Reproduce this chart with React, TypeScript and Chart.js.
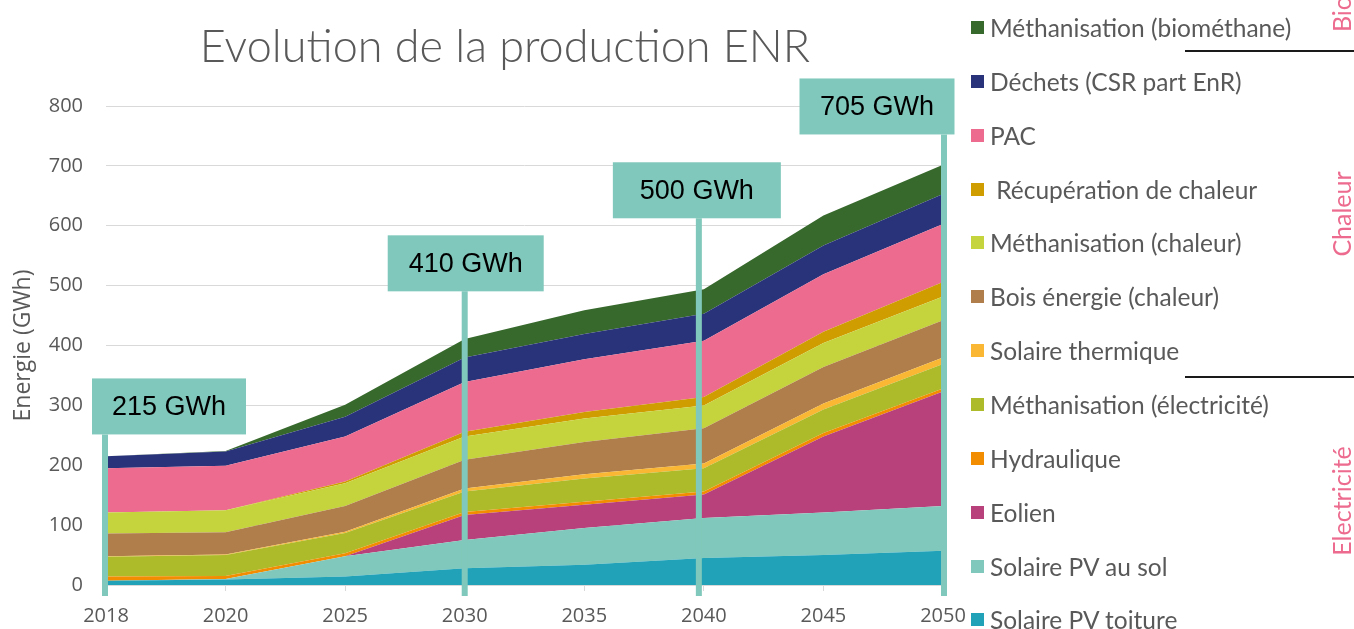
import React, { useEffect, useRef } from 'react';
import { Chart, registerables } from 'chart.js';

Chart.register(...registerables);

// ---- Data ----
const years = ['2018', '2020', '2025', '2030', '2035', '2040', '2045', '2050'];

const solairePvToiture = [7, 9, 14, 28, 34, 45, 50, 57];
const solairePvSol = [0, 1, 34, 47, 61, 67, 71, 75];
const eolien = [0, 0, 0, 42, 39, 39, 127, 191];
const hydraulique = [7, 5, 5, 5, 5, 5, 6, 5];
const methanisationElec = [33, 35, 34, 34, 39, 39, 39, 41];
const solaireThermique = [1, 1, 2, 5, 7, 8, 10, 11];
const boisEnergie = [38, 37, 43, 48, 54, 59, 61, 62];
const methanisationChaleur = [35, 37, 38, 39, 39, 38, 40, 40];
const recuperationChaleur = [0, 0, 3, 8, 11, 14, 19, 24];
const pac = [74, 74, 75, 83, 88, 94, 96, 97];
const dechets = [20, 24, 33, 41, 42, 45, 48, 50];
const biomethane = [0, 1, 20, 31, 40, 41, 50, 49];

const yTicks = [0, 100, 200, 300, 400, 500, 600, 700, 800];

const totalLabels = ['215 GWh', '410 GWh', '500 GWh', '705 GWh'];
const totalLabelYearIndex = [0, 3, 5, 7];

// ---- Series (bottom to top) ----
const series = [
  { label: 'Solaire PV toiture', data: solairePvToiture, color: '#21a2b9' },
  { label: 'Solaire PV au sol', data: solairePvSol, color: '#80c8bb' },
  { label: 'Eolien', data: eolien, color: '#b8417b' },
  { label: 'Hydraulique', data: hydraulique, color: '#f28c00' },
  { label: 'Méthanisation (électricité)', data: methanisationElec, color: '#adbb2a' },
  { label: 'Solaire thermique', data: solaireThermique, color: '#f9b733' },
  { label: 'Bois énergie (chaleur)', data: boisEnergie, color: '#b07e4b' },
  { label: 'Méthanisation (chaleur)', data: methanisationChaleur, color: '#c5d43c' },
  { label: ' Récupération de chaleur', data: recuperationChaleur, color: '#cf9d00' },
  { label: 'PAC', data: pac, color: '#ec6b8e' },
  { label: 'Déchets (CSR part EnR)', data: dechets, color: '#29337a' },
  { label: 'Méthanisation (biométhane)', data: biomethane, color: '#37692d' },
];

// annotation box styling (pixel offsets relative to the year position)
const boxStyles = [
  { boxDx: 63, lineDx: -1, topValue: 345, w: 154 },
  { boxDx: 1, lineDx: 0, topValue: 584, w: 156 },
  { boxDx: -7, lineDx: -5, topValue: 706, w: 168 },
  { boxDx: -66, lineDx: 1, topValue: 846, w: 155 },
];

const TEAL = '#80c8bb';
const GREY_TEXT = '#595959';
const PINK = '#ec6b8e';

const boxPlugin = {
  id: 'gwhBoxes',
  afterDatasetsDraw(chart: any) {
    const { ctx, scales } = chart;
    const x = scales.x;
    const y = scales.y;
    totalLabels.forEach((label, i) => {
      const st = boxStyles[i];
      const px = x.getPixelForValue(totalLabelYearIndex[i]);
      const top = y.getPixelForValue(st.topValue);
      const h = 56;
      const bottomLine = y.getPixelForValue(0) + 11;
      ctx.save();
      ctx.strokeStyle = TEAL;
      ctx.lineWidth = 6;
      ctx.beginPath();
      ctx.moveTo(px + st.lineDx, top + h);
      ctx.lineTo(px + st.lineDx, bottomLine);
      ctx.stroke();
      ctx.fillStyle = TEAL;
      const cx = px + st.boxDx;
      ctx.fillRect(cx - st.w / 2, top, st.w, h);
      ctx.fillStyle = '#000';
      ctx.font = '27px "Liberation Sans", Arial, sans-serif';
      ctx.textAlign = 'center';
      ctx.textBaseline = 'middle';
      ctx.fillText(label, cx, top + h / 2 + 1);
      ctx.restore();
    });
  },
};

export default function App() {
  const canvasRef = useRef<HTMLCanvasElement | null>(null);

  useEffect(() => {
    document.body.style.margin = '0';
    const canvas = canvasRef.current;
    if (!canvas) return;
    const chart = new Chart(canvas, {
      type: 'line',
      data: {
        labels: years,
        datasets: series.map((s, i) => ({
          label: s.label,
          data: s.data,
          backgroundColor: s.color,
          borderColor: s.color,
          borderWidth: 0,
          pointRadius: 0,
          tension: 0,
          fill: i === 0 ? 'origin' : '-1',
        })),
      },
      options: {
        responsive: false,
        animation: false,
        layout: { padding: { top: 106, right: 411, bottom: 0, left: 0 } },
        plugins: {
          legend: { display: false },
          title: { display: false },
          tooltip: { enabled: false },
        },
        scales: {
          x: {
            type: 'category',
            offset: false,
            grid: {
              drawOnChartArea: false,
              drawTicks: true,
              tickLength: 6,
              color: '#d9d9d9',
            },
            border: { display: true, color: '#d9d9d9', width: 1 },
            ticks: {
              color: GREY_TEXT,
              font: { family: '"Open Sans"', size: 20 },
              padding: 13,
              maxRotation: 0,
              autoSkip: false,
            },
            afterFit: (scale: any) => {
              scale.height = 44;
            },
          },
          y: {
            stacked: true,
            min: 0,
            max: 800,
            afterBuildTicks: (scale: any) => {
              scale.ticks = yTicks.map((v) => ({ value: v }));
            },
            grid: { color: '#d9d9d9', drawTicks: false, lineWidth: 1 },
            border: { display: false },
            ticks: {
              color: GREY_TEXT,
              font: { family: '"Open Sans"', size: 20 },
              padding: 23,
            },
            title: {
              display: true,
              text: 'Energie (GWh)',
              color: GREY_TEXT,
              font: { family: '"Open Sans"', size: 23 },
              padding: { top: 10, bottom: 0 },
            },
            afterFit: (scale: any) => {
              scale.width = 106;
            },
          },
        },
      },
      plugins: [boxPlugin],
    });
    return () => chart.destroy();
  }, []);

  const legendItems = [...series].reverse();

  return (
    <div
      style={{
        position: 'absolute',
        left: 0,
        top: 0,
        width: 1354,
        height: 629,
        overflow: 'hidden',
        background: '#fff',
      }}
    >
      <canvas ref={canvasRef} width={1354} height={629} style={{ display: 'block', width: 1354, height: 629 }} />
      <div
        style={{
          position: 'absolute',
          left: 0,
          width: 1010,
          top: 19,
          textAlign: 'center',
          fontFamily: 'Lato, "Open Sans", sans-serif',
          fontWeight: 300,
          fontSize: 45,
          lineHeight: '52px',
          color: GREY_TEXT,
          whiteSpace: 'nowrap',
        }}
      >
        Evolution de la production ENR
      </div>
      {legendItems.map((s, i) => {
        const cy = 27.5 + 53.86 * i;
        return (
          <div
            key={s.label}
            style={{
              position: 'absolute',
              left: 971,
              top: cy - 15,
              height: 30,
              display: 'flex',
              alignItems: 'center',
              whiteSpace: 'pre',
              fontFamily: 'Lato, "Open Sans", sans-serif',
              fontSize: 24.5,
              color: GREY_TEXT,
            }}
          >
            <span style={{ display: 'inline-block', width: 13, height: 13, background: s.color, marginRight: 6, flexShrink: 0 }} />
            <span>{s.label}</span>
          </div>
        );
      })}
      <div style={{ position: 'absolute', left: 1185, width: 169, top: 50, height: 2, background: '#1a1a1a' }} />
      <div style={{ position: 'absolute', left: 1185, width: 169, top: 376, height: 2, background: '#1a1a1a' }} />
      {[
        { text: 'Bio', cy: 14 },
        { text: 'Chaleur', cy: 214 },
        { text: 'Electricité', cy: 501 },
      ].map((g) => (
        <div
          key={g.text}
          style={{
            position: 'absolute',
            left: 1341,
            top: g.cy,
            transform: 'translate(-50%, -50%) rotate(-90deg)',
            fontFamily: 'Lato, "Open Sans", sans-serif',
            fontSize: 25,
            color: PINK,
            whiteSpace: 'nowrap',
            lineHeight: '26px',
          }}
        >
          {g.text}
        </div>
      ))}
    </div>
  );
}
